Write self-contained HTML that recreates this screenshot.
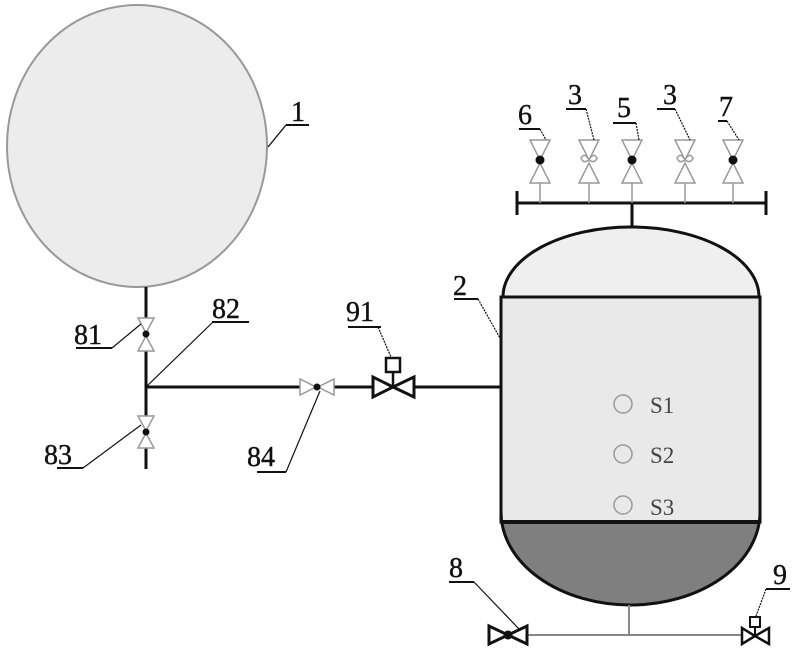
<!DOCTYPE html>
<html><head><meta charset="utf-8"><style>
html,body{margin:0;padding:0;background:#fff;}
svg{display:block;}
text{font-family:"Liberation Serif",serif;font-size:28px;fill:#111;stroke:#111;stroke-width:0.4;}
</style></head><body>
<svg width="799" height="653" viewBox="0 0 799 653" xmlns="http://www.w3.org/2000/svg">
<!-- tank 1 -->
<ellipse cx="137" cy="146" rx="130" ry="141" fill="#ececec" stroke="#999" stroke-width="2"/>
<text x="291" y="121">1</text>
<line x1="286" y1="125" x2="309" y2="125" stroke="#111" stroke-width="2"/>
<line x1="286" y1="125" x2="268" y2="147" stroke="#111" stroke-width="1.3"/>

<!-- vertical pipe -->
<line x1="146" y1="287" x2="146" y2="469" stroke="#111" stroke-width="3"/>
<line x1="146" y1="387" x2="500" y2="387" stroke="#111" stroke-width="3"/>
<g fill="#fff" stroke="#999" stroke-width="1.5">
<polygon points="138,318 154,318 146,333"/><polygon points="138,351 154,351 146,336"/>
<polygon points="138,416 154,416 146,431"/><polygon points="138,448 154,448 146,433"/>
<polygon points="300,379 300,395 316,387"/><polygon points="334,379 334,395 318,387"/>
</g>
<circle cx="146" cy="334" r="3.5" fill="#111"/>
<circle cx="146" cy="432" r="3.5" fill="#111"/>
<circle cx="317" cy="387" r="3.5" fill="#111"/>
<text x="74" y="344">81</text>
<line x1="76" y1="348" x2="112" y2="348" stroke="#111" stroke-width="2"/>
<line x1="112" y1="348" x2="141" y2="324" stroke="#111" stroke-width="1.2"/>
<text x="212" y="318">82</text>
<line x1="212" y1="322" x2="249" y2="322" stroke="#111" stroke-width="2"/>
<line x1="213" y1="322" x2="147" y2="386" stroke="#111" stroke-width="1.2"/>
<text x="44" y="464">83</text>
<line x1="57" y1="468" x2="83" y2="468" stroke="#111" stroke-width="2"/>
<line x1="83" y1="468" x2="141" y2="425" stroke="#111" stroke-width="1.2"/>
<text x="247" y="466">84</text>
<line x1="257" y1="472" x2="286" y2="472" stroke="#111" stroke-width="2"/>
<line x1="286" y1="472" x2="320" y2="391" stroke="#111" stroke-width="1.2"/>

<!-- valve 91 -->
<polygon points="373,377 373,397 393,387" fill="#fff" stroke="#111" stroke-width="3"/>
<polygon points="414,377 414,397 393,387" fill="#fff" stroke="#111" stroke-width="3"/>
<line x1="393" y1="372" x2="393" y2="387" stroke="#111" stroke-width="2.5"/>
<rect x="386" y="358" width="14" height="14" fill="#fff" stroke="#111" stroke-width="2.5"/>
<text x="346" y="321">91</text>
<line x1="348" y1="327" x2="381" y2="327" stroke="#111" stroke-width="2"/>
<line x1="378" y1="327" x2="391" y2="357" stroke="#111" stroke-width="1.2" stroke-dasharray="2,1"/>

<!-- tank 2 -->
<path d="M503,297 A128,70 0 0 1 759,297 Z" fill="#efefef" stroke="#111" stroke-width="3"/>
<rect x="501" y="297" width="259" height="225" fill="#e9e9e9" stroke="#111" stroke-width="3"/>
<path d="M501,522 L501,512 A129.5,93 0 0 0 760,512 L760,522 Z" fill="#7f7f7f" stroke="#111" stroke-width="3"/>
<line x1="501" y1="522" x2="760" y2="522" stroke="#111" stroke-width="4"/>
<text x="453" y="295">2</text>
<line x1="454" y1="299" x2="478" y2="299" stroke="#111" stroke-width="2"/>
<line x1="478" y1="299" x2="500" y2="338" stroke="#111" stroke-width="1.2" stroke-dasharray="2,1"/>
<g fill="none" stroke="#999" stroke-width="1.5">
<circle cx="623" cy="404" r="9"/><circle cx="623" cy="454" r="9"/><circle cx="623" cy="505" r="9"/>
</g>
<text x="650" y="413" style="font-size:23px;fill:#444;stroke:none">S1</text>
<text x="650" y="463" style="font-size:23px;fill:#444;stroke:none">S2</text>
<text x="650" y="515" style="font-size:23px;fill:#444;stroke:none">S3</text>

<!-- top manifold -->
<line x1="632" y1="203" x2="632" y2="228" stroke="#111" stroke-width="3"/>
<line x1="517" y1="203" x2="766" y2="203" stroke="#111" stroke-width="3"/>
<line x1="517" y1="191" x2="517" y2="215" stroke="#111" stroke-width="3"/>
<line x1="766" y1="191" x2="766" y2="215" stroke="#111" stroke-width="3"/>
<g stroke="#999" stroke-width="1.5" fill="#fff">
<line x1="540" y1="183" x2="540" y2="203"/><line x1="589" y1="183" x2="589" y2="203"/>
<line x1="632" y1="183" x2="632" y2="203"/><line x1="685" y1="183" x2="685" y2="203"/>
<line x1="733" y1="183" x2="733" y2="203"/>
<polygon points="530,140 550,140 540,160"/><polygon points="530,183 550,183 540,163"/>
<polygon points="579,140 599,140 589,160"/><polygon points="579,183 599,183 589,163"/>
<polygon points="622,140 642,140 632,160"/><polygon points="622,183 642,183 632,163"/>
<polygon points="675,140 695,140 685,160"/><polygon points="675,183 695,183 685,163"/>
<polygon points="723,140 743,140 733,160"/><polygon points="723,183 743,183 733,163"/>
<path d="M581,158 q4,-6 8,2 q4,-8 8,-2 q-2,6 -8,2 q-6,4 -8,-2 Z" fill="none"/>
<path d="M677,158 q4,-6 8,2 q4,-8 8,-2 q-2,6 -8,2 q-6,4 -8,-2 Z" fill="none"/>
</g>
<circle cx="540" cy="160" r="4.5" fill="#111"/>
<circle cx="632" cy="160" r="4.5" fill="#111"/>
<circle cx="733" cy="160" r="4.5" fill="#111"/>
<text x="518" y="124">6</text>
<line x1="519" y1="129" x2="540" y2="129" stroke="#111" stroke-width="2"/>
<line x1="540" y1="129" x2="546" y2="140" stroke="#111" stroke-width="1.2" stroke-dasharray="2,1"/>
<text x="568" y="104">3</text>
<line x1="566" y1="109" x2="586" y2="109" stroke="#111" stroke-width="2"/>
<line x1="586" y1="109" x2="594" y2="140" stroke="#111" stroke-width="1.2" stroke-dasharray="2,1"/>
<text x="617" y="117">5</text>
<line x1="613" y1="123" x2="636" y2="123" stroke="#111" stroke-width="2"/>
<line x1="636" y1="123" x2="639" y2="140" stroke="#111" stroke-width="1.2" stroke-dasharray="2,1"/>
<text x="663" y="104">3</text>
<line x1="657" y1="109" x2="675" y2="109" stroke="#111" stroke-width="2"/>
<line x1="675" y1="109" x2="690" y2="140" stroke="#111" stroke-width="1.2" stroke-dasharray="2,1"/>
<text x="719" y="116">7</text>
<line x1="718" y1="121" x2="727" y2="121" stroke="#111" stroke-width="2"/>
<line x1="727" y1="121" x2="739" y2="140" stroke="#111" stroke-width="1.2" stroke-dasharray="2,1"/>

<!-- bottom -->
<line x1="629" y1="605" x2="629" y2="635" stroke="#888" stroke-width="2"/>
<line x1="526" y1="635" x2="745" y2="635" stroke="#888" stroke-width="2"/>
<polygon points="489,626 489,644 508,635" fill="#fff" stroke="#111" stroke-width="3"/>
<polygon points="527,626 527,644 508,635" fill="#fff" stroke="#111" stroke-width="3"/>
<circle cx="508" cy="635" r="4.5" fill="#111"/>
<polygon points="742,628 742,644 755,636" fill="#fff" stroke="#111" stroke-width="2.5"/>
<polygon points="769,628 769,644 755,636" fill="#fff" stroke="#111" stroke-width="2.5"/>
<line x1="755" y1="627" x2="755" y2="636" stroke="#111" stroke-width="2"/>
<rect x="750" y="617" width="10" height="10" fill="#fff" stroke="#111" stroke-width="2"/>
<text x="449" y="577">8</text>
<line x1="449" y1="582" x2="474" y2="582" stroke="#111" stroke-width="2"/>
<line x1="474" y1="582" x2="520" y2="630" stroke="#111" stroke-width="1.2"/>
<text x="773" y="584">9</text>
<line x1="766" y1="589" x2="790" y2="589" stroke="#111" stroke-width="2"/>
<line x1="766" y1="589" x2="756" y2="616" stroke="#111" stroke-width="1.2" stroke-dasharray="2,1"/>
</svg>
</body></html>
